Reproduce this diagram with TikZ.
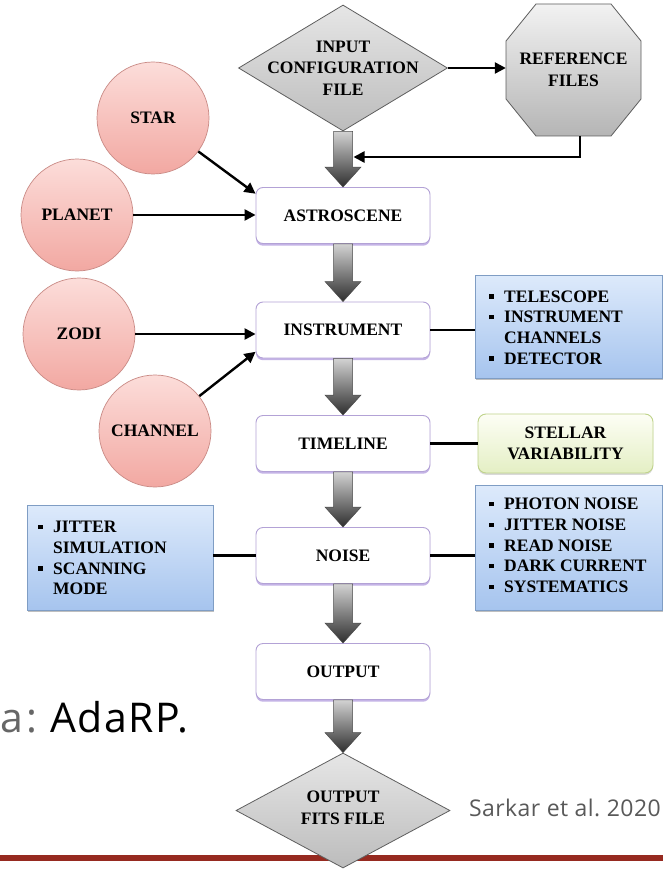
\documentclass[tikz,border=0pt]{standalone}
\usepackage{fontspec}
\setmainfont{Liberation Serif}
\newfontfamily\osans{Open Sans}
\newfontfamily\osanswide[LetterSpace=4]{Open Sans}
\newfontfamily\osanssemi[LetterSpace=2]{Open Sans}
\usetikzlibrary{shapes.geometric,arrows.meta,calc,shadows}
\definecolor{procborder}{HTML}{B3A2D6}
\definecolor{procshadow}{HTML}{C4B3E6}
\definecolor{pinktop}{HTML}{FCDDDA}
\definecolor{pinkbot}{HTML}{F2A8A2}
\definecolor{pinkborder}{HTML}{C98A85}
\definecolor{bluetop}{HTML}{DDEAFB}
\definecolor{bluebot}{HTML}{A6C4EE}
\definecolor{blueborder}{HTML}{7F9DC4}
\definecolor{steltop}{HTML}{FDFEF5}
\definecolor{stelbot}{HTML}{E4EFC4}
\definecolor{stelborder}{HTML}{BFD38A}
\definecolor{gemtop}{HTML}{E6E6E6}
\definecolor{gembot}{HTML}{BCBCBC}
\definecolor{octtop}{HTML}{F2F2F2}
\definecolor{octbot}{HTML}{B5B5B5}
\definecolor{gemborder}{HTML}{5E5E5E}
\definecolor{arrtop}{HTML}{D2D2D2}
\definecolor{arrbot}{HTML}{2E2E2E}
\definecolor{arrborder}{HTML}{4A4A4A}
\definecolor{redline}{HTML}{962A20}
\newcommand\bsq{\makebox[15pt][l]{\raisebox{3.5pt}{\rule{4.5pt}{4.5pt}}}}
\newcommand\blockarrow[2]{%
  \path[blockarr] ($(#1.south)+(-9.5,0)$) -- ($(#2.north)+(-9.5,-20)$)
    -- ($(#2.north)+(-18,-20)$) -- (#2.north) -- ($(#2.north)+(18,-20)$)
    -- ($(#2.north)+(9.5,-20)$) -- ($(#1.south)+(9.5,0)$) -- cycle;}
\begin{document}
\begin{tikzpicture}[x=1pt,y=-1pt,
  lab/.style={font=\fontsize{17.5}{21.5}\selectfont\bfseries, align=center, inner sep=0pt},
  listtext/.style={font=\fontsize{17.5}{20.7}\selectfont\bfseries, align=left, inner sep=0pt, anchor=west},
  proc/.style={lab, rectangle, rounded corners=7pt, draw=procborder, line width=0.9pt, fill=white,
    minimum width=174pt, minimum height=56pt,
    drop shadow={shadow xshift=0pt, shadow yshift=-2.2pt, fill=procshadow, opacity=1}},
  ball/.style={lab, circle, minimum size=112pt, draw=pinkborder, line width=0.7pt, top color=pinktop, bottom color=pinkbot},
  gem/.style={diamond, draw=gemborder, line width=0.8pt, top color=gemtop, bottom color=gembot, inner sep=0pt},
  infobox/.style={rectangle, draw=blueborder, line width=0.8pt, top color=bluetop, bottom color=bluebot,
    drop shadow={shadow xshift=1.2pt, shadow yshift=-1.8pt, fill=black, opacity=0.25}},
  stelbox/.style={lab, rectangle, rounded corners=8pt, draw=stelborder, line width=0.9pt, top color=steltop, bottom color=stelbot,
    minimum width=175pt, minimum height=59pt,
    drop shadow={shadow xshift=0pt, shadow yshift=-1.8pt, fill=black, opacity=0.15}},
  link/.style={line width=2.4pt, black},
  tip/.style={link, -{Triangle[length=11pt,width=11pt]}},
  blockarr/.style={top color=arrtop, bottom color=arrbot, draw=arrborder, line width=0.5pt},
]
\useasboundingbox (0,0) rectangle (663,869);
\fill[white] (0,0) rectangle (663,869);

% red rule
\coordinate (ruleL) at (0,858);
\coordinate (ruleR) at (663,858);
\draw[line width=6pt, redline] (ruleL) -- (ruleR);

% input diamond
\node[gem, minimum width=209pt, minimum height=126pt] (in) at (343,68) {};
\node[lab] (inT) at (in) {INPUT\\CONFIGURATION\\FILE};

% reference octagon
\shade[top color=octtop, bottom color=octbot, draw=gemborder, line width=0.8pt]
  (536,4) -- (611,4) -- (641,41) -- (641,99) -- (611,136) -- (536,136) -- (506,99) -- (506,41) -- cycle;
\node[lab, minimum width=135pt, minimum height=132pt] (ref) at (573.5,70) {REFERENCE\\FILES};

% process boxes
\node[proc] (astro) at (343,215.5) {ASTROSCENE};
\node[proc] (instr) at (343,330) {INSTRUMENT};
\node[proc] (time) at (343,443.5) {TIMELINE};
\node[proc] (noise) at (343,555.5) {NOISE};
\node[proc] (out) at (343,671.5) {OUTPUT};

% output diamond
\node[gem, minimum width=214pt, minimum height=115pt] (fits) at (343,810.5) {};
\node[lab] (fitsT) at (343,808) {OUTPUT\\FITS FILE};

% block arrows
\blockarrow{in}{astro}
\blockarrow{astro}{instr}
\blockarrow{instr}{time}
\blockarrow{time}{noise}
\blockarrow{noise}{out}
\blockarrow{out}{fits}

% circles
\node[ball] (star) at (153,118) {STAR};
\node[ball] (planet) at (77,215) {PLANET};
\node[ball] (zodi) at (79,334) {ZODI};
\node[ball] (channel) at (155,431) {CHANNEL};

% info boxes
\node[infobox, minimum width=187pt, minimum height=103pt] (det) at (568.5,326.5) {};
\node[listtext] (detT) at (489,327.5) {\bsq TELESCOPE\\\bsq INSTRUMENT\\\hspace*{15pt}CHANNELS\\\bsq DETECTOR};
\node[infobox, minimum width=187pt, minimum height=125pt] (nd) at (568.5,547.5) {};
\node[listtext] (ndT) at (489,545.5) {\bsq PHOTON NOISE\\\bsq JITTER NOISE\\\bsq READ NOISE\\\bsq DARK CURRENT\\\bsq SYSTEMATICS};
\node[infobox, minimum width=186pt, minimum height=105pt] (lb) at (120,557.5) {};
\node[listtext] (lbT) at (38,558) {\bsq JITTER\\\hspace*{15pt}SIMULATION\\\bsq SCANNING\\\hspace*{15pt}MODE};
\node[stelbox] (stel) at (565.5,443.5) {STELLAR\\VARIABILITY};

% connectors
\draw[tip] (in.east) -- (in.east -| ref.west);
\coordinate (fbS) at (580,136);
\coordinate (fbT) at (353.5,157);
\draw[tip] (fbS) |- (fbT);
\draw[tip] (star) -- (astro.166);
\draw[tip] (planet) -- (planet -| astro.west);
\draw[tip] (zodi) -- (zodi -| instr.west);
\draw[tip] (channel) -- (instr.194);
\draw[link] (instr.east) -- (instr.east -| det.west);
\draw[link] (time.east) -- (time.east -| stel.west);
\draw[link] (noise.east) -- (noise.east -| nd.west);
\draw[link] (noise.west) -- (noise.west -| lb.east);

% texts
\node[anchor=base west, inner sep=0pt, font=\osans\fontsize{41}{41}\selectfont, text=black!60] (aT) at (0,732) {a\hspace{4pt}:};
\node[anchor=base west, inner sep=0pt, font=\osanswide\fontsize{41}{41}\selectfont] (ada) at (50,732) {AdaRP.};
\node[anchor=base east, inner sep=0pt, font=\osanssemi\fontsize{23}{23}\selectfont, text=black!65] (cite) at (661,816) {Sarkar et al.\ 2020};
\end{tikzpicture}
\end{document}
